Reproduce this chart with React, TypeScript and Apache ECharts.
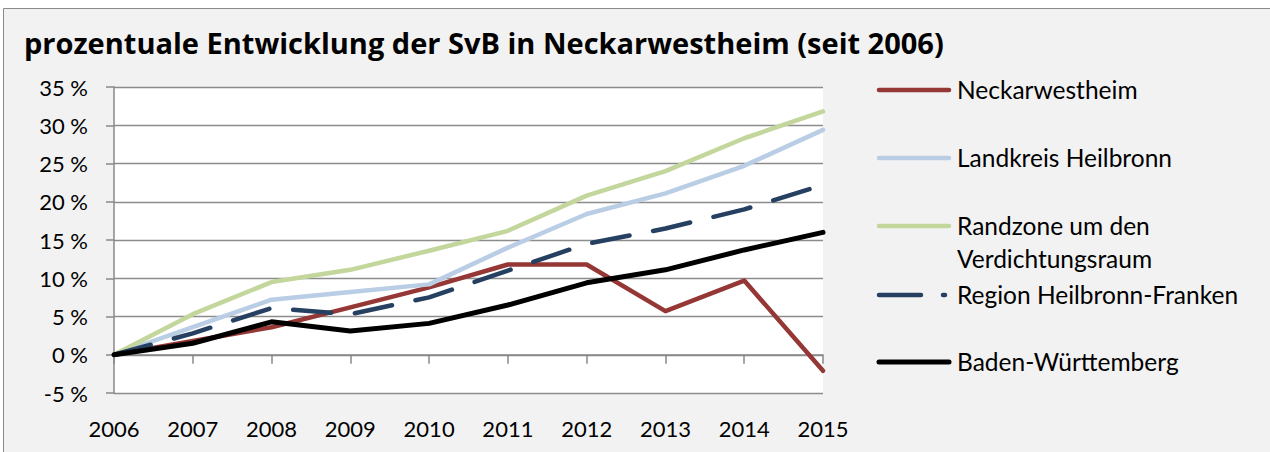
import React, { useEffect, useRef } from "react";
import * as echarts from "echarts";

const years = ["2006", "2007", "2008", "2009", "2010", "2011", "2012", "2013", "2014", "2015"];
const neckarwestheim = [0, 1.8, 3.6, 6.2, 8.8, 11.8, 11.8, 5.7, 9.7, -2.1];
const landkreisHeilbronn = [0, 3.6, 7.2, 8.2, 9.2, 14.0, 18.4, 21.1, 24.7, 29.4];
const randzone = [0, 5.3, 9.5, 11.1, 13.6, 16.2, 20.8, 24.0, 28.3, 31.8];
const regionHF = [0, 2.8, 6.1, 5.3, 7.5, 11.0, 14.5, 16.5, 19.0, 22.2];
const badenWuerttemberg = [0, 1.5, 4.3, 3.1, 4.1, 6.5, 9.4, 11.1, 13.7, 16.0];

const seriesNames = [
  "Neckarwestheim",
  "Landkreis Heilbronn",
  "Randzone um den Verdichtungsraum",
  "Region Heilbronn-Franken",
  "Baden-Württemberg",
];
const legendLabels = [
  "Neckarwestheim",
  "Landkreis Heilbronn",
  "Randzone um den\nVerdichtungsraum",
  "Region Heilbronn-Franken",
  "Baden-Württemberg",
];
const colors = ["#953735", "#b9cde5", "#c3d69b", "#254061", "#000000"];
const FONT = "Lato, 'Noto Sans', sans-serif";

export default function App() {
  const ref = useRef<HTMLDivElement>(null);
  useEffect(() => {
    if (!ref.current) return;
    const chart = echarts.init(ref.current, null, { renderer: "svg" });
    const values = [neckarwestheim, landkreisHeilbronn, randzone, regionHF, badenWuerttemberg];
    const widths = [4.5, 4.5, 4.5, 4.5, 5];
    const legendY = [90, 158, 226, 295, 362];
    const legendGraphics: any[] = [];
    seriesNames.forEach((n, i) => {
      const dashed = i === 3;
      legendGraphics.push({
        type: "line",
        shape: { x1: 879, y1: legendY[i], x2: dashed ? 945 : 949, y2: legendY[i] },
        style: {
          stroke: colors[i],
          lineWidth: widths[i],
          lineCap: "round",
          lineDash: dashed ? [42, 22] : null,
        },
        z: 10,
      });
      legendGraphics.push({
        type: "text",
        x: 957,
        y: legendY[i] - 17,
        style: {
          text: legendLabels[i],
          fill: "#000",
          font: `24.5px ${FONT}`,
          lineHeight: 33,
          textVerticalAlign: "top",
        },
        z: 10,
      });
    });

    chart.setOption({
      animation: false,
      backgroundColor: "#ffffff",
      title: {
        text: "prozentuale Entwicklung der SvB in Neckarwestheim (seit 2006)",
        left: 19,
        top: 23,
        textStyle: { fontFamily: "'Open Sans', Lato, sans-serif", fontWeight: "bold", fontSize: 29, color: "#000" },
      },
      graphic: [
        {
          type: "rect",
          shape: { x: 3.5, y: 8.5, width: 1300, height: 500 },
          style: { fill: "#f2f2f2", stroke: "#8a8a8a", lineWidth: 1 },
          z: -10,
          silent: true,
        },
        ...legendGraphics,
      ],
      grid: {
        left: 114,
        top: 87,
        right: 447,
        bottom: 59,
        show: true,
        backgroundColor: "#ffffff",
        borderWidth: 0,
      },
      xAxis: [
        {
          type: "category",
          data: years,
          boundaryGap: false,
          position: "bottom",
          axisLine: { show: false, onZero: false },
          axisTick: { show: false },
          axisLabel: { fontFamily: FONT, fontSize: 22, color: "#000", margin: 24 },
        },
        {
          type: "category",
          data: years,
          boundaryGap: false,
          position: "top",
          axisLine: { show: true, onZero: true, lineStyle: { color: "#888", width: 1.5 } },
          axisTick: { show: true, inside: true, length: 9, lineStyle: { color: "#888", width: 1.5 } },
          axisLabel: { show: false },
        },
      ],
      yAxis: {
        type: "value",
        min: -5,
        max: 35,
        interval: 5,
        axisLine: { show: true, lineStyle: { color: "#888", width: 1.5 } },
        axisTick: { show: true, length: 8, lineStyle: { color: "#888", width: 1.5 } },
        axisLabel: {
          formatter: "{value} %",
          fontFamily: FONT,
          fontSize: 22,
          color: "#000",
          margin: 26,
        },
        splitLine: { show: true, lineStyle: { color: "#8c8c8c", width: 1.3 } },
      },
      series: values.map((v, i) => ({
        name: seriesNames[i],
        type: "line",
        data: v,
        xAxisIndex: 0,
        symbol: "none",
        lineStyle: {
          color: colors[i],
          width: widths[i],
          type: i === 3 ? [38, 24] : "solid",
          cap: "round",
          join: "round",
        },
        z: 2 + i,
      })),
    });
    return () => chart.dispose();
  }, []);
  return (
    <div
      ref={ref}
      style={{ position: "absolute", left: 0, top: 0, width: 1270, height: 452 }}
    />
  );
}
